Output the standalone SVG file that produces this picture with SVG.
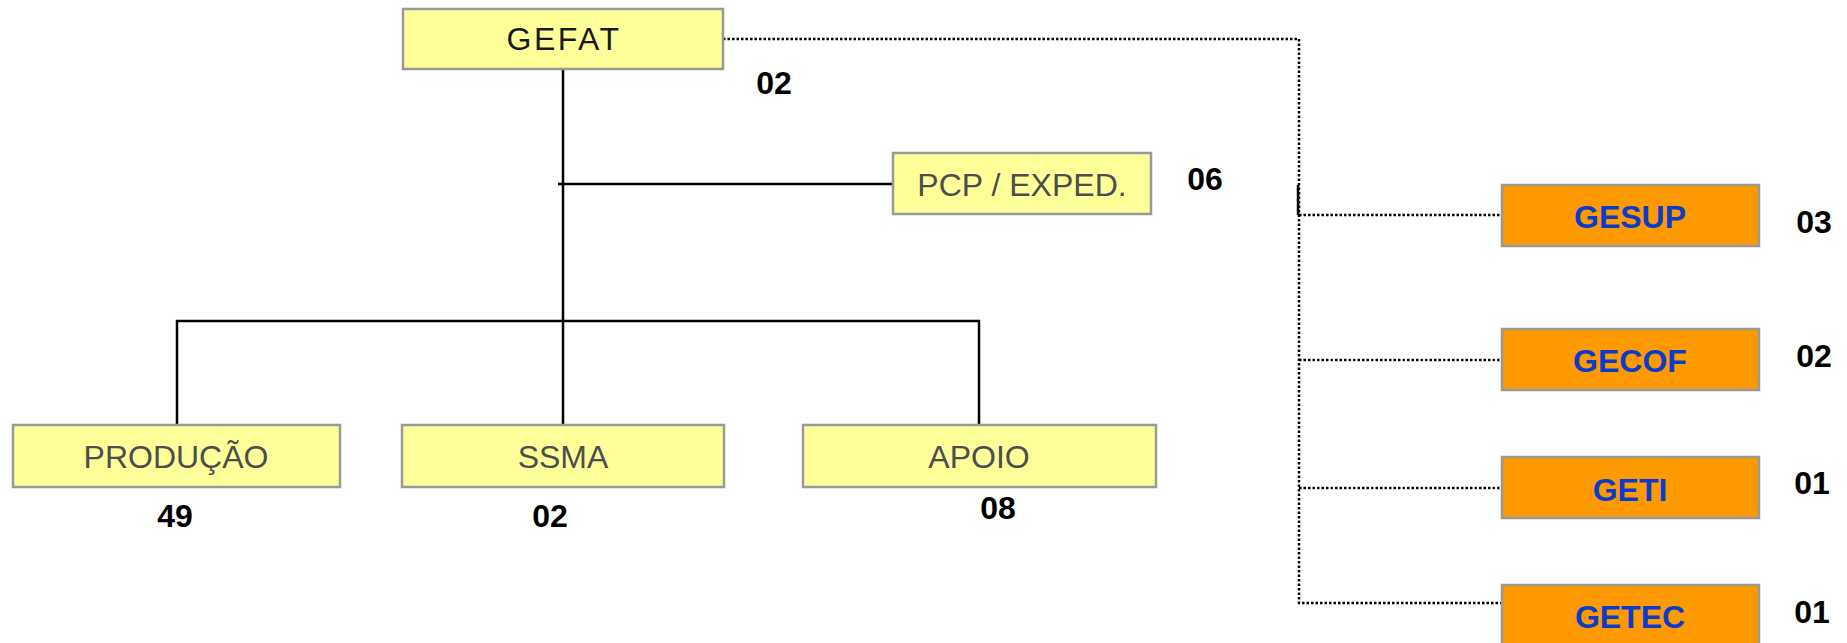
<svg xmlns="http://www.w3.org/2000/svg" width="1847" height="643" viewBox="0 0 1847 643">
<style>
.y{fill:#FFFF99;stroke:#999999;stroke-width:2.5}
.o{fill:#FF9900;stroke:#999999;stroke-width:2.5}
.t{font-family:"Liberation Sans",Arial,sans-serif;font-size:32px;fill:#4d4d4d;text-anchor:middle}
.b{font-family:"Liberation Sans",Arial,sans-serif;font-size:32px;font-weight:bold;fill:#0a3ccc;text-anchor:middle}
.n{font-family:"Liberation Sans",Arial,sans-serif;font-size:32px;font-weight:bold;fill:#000;text-anchor:middle}
.s{stroke:#000;stroke-width:2.5;fill:none}
.d{stroke:#000;stroke-width:2.5;fill:none;stroke-dasharray:2.5 2}
</style>
<rect width="1847" height="643" fill="#fff"/>
<g id="connectors">
<line class="s" x1="563" y1="69" x2="563" y2="425"/>
<line class="s" x1="558" y1="184" x2="893" y2="184"/>
<polyline class="s" points="177,425 177,321 979,321 979,425"/>
<polyline class="d" points="723,39 1299,39 1299,603 1502,603"/>
<line class="d" x1="1299" y1="215" x2="1502" y2="215"/>
<line class="d" x1="1299" y1="360" x2="1502" y2="360"/>
<line class="d" x1="1299" y1="488" x2="1502" y2="488"/>
<line class="s" x1="1298" y1="185" x2="1298" y2="215"/>
</g>
<g id="gefat">
<rect class="y" x="403" y="9" width="320" height="60"/>
<text class="t" x="564" y="50" style="fill:#1a1a1a;letter-spacing:2.5px">GEFAT</text>
<text class="n" x="774" y="94">02</text>
</g>
<g id="pcp">
<rect class="y" x="893" y="153" width="258" height="61"/>
<text class="t" x="1022" y="196">PCP / EXPED.</text>
<text class="n" x="1205" y="190">06</text>
</g>
<g id="producao">
<rect class="y" x="13" y="425" width="327" height="62"/>
<text class="t" x="176" y="468">PRODUÇÃO</text>
<text class="n" x="175" y="527">49</text>
</g>
<g id="ssma">
<rect class="y" x="402" y="425" width="322" height="62"/>
<text class="t" x="563" y="468">SSMA</text>
<text class="n" x="550" y="527">02</text>
</g>
<g id="apoio">
<rect class="y" x="803" y="425" width="353" height="62"/>
<text class="t" x="979" y="468">APOIO</text>
<text class="n" x="998" y="519">08</text>
</g>
<g id="gesup">
<rect class="o" x="1502" y="185" width="257" height="61"/>
<text class="b" x="1630" y="228">GESUP</text>
<text class="n" x="1814" y="233">03</text>
</g>
<g id="gecof">
<rect class="o" x="1502" y="329" width="257" height="61"/>
<text class="b" x="1630" y="372">GECOF</text>
<text class="n" x="1814" y="367">02</text>
</g>
<g id="geti">
<rect class="o" x="1502" y="457" width="257" height="61"/>
<text class="b" x="1630" y="501">GETI</text>
<text class="n" x="1812" y="494">01</text>
</g>
<g id="getec">
<rect class="o" x="1502" y="585" width="257" height="62"/>
<text class="b" x="1630" y="628">GETEC</text>
<text class="n" x="1812" y="623">01</text>
</g>
</svg>
